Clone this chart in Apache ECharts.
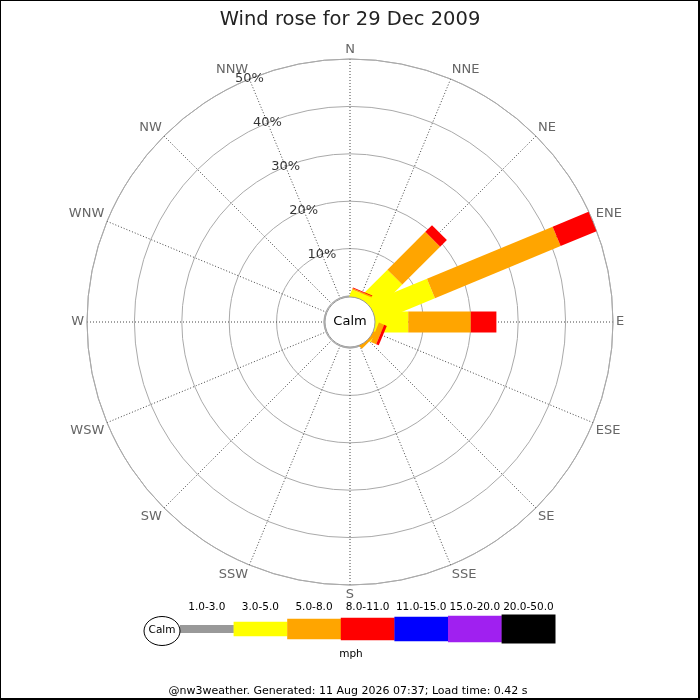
<!DOCTYPE html>
<html>
<head>
<meta charset="utf-8">
<script src="https://cdn.jsdelivr.net/npm/echarts@6/dist/echarts.min.js"></script>
<style>
html,body{margin:0;padding:0;background:#fff;}
#chart{width:700px;height:700px;}
</style>
</head>
<body>
<div id="chart"></div>
<script>
// ---- data ----
const directions = ['N','NNE','NE','ENE','E','ESE','SE','SSE','S','SSW','SW','WSW','W','WNW','NW','NNW'];
const speedBins = ['1.0-3.0','3.0-5.0','5.0-8.0','8.0-11.0','11.0-15.0','15.0-20.0','20.0-50.0'];
const binColors = ['#999999','#ffff00','#ffa500','#ff0000','#0000ff','#a020f0','#000000'];
//                  N   NNE  NE    ENE   E    ESE  SE   SSE S SSW SW WSW W WNW NW NNW
const speed1to3   = [0, 0,   0,    0,    0,   0,   0,   0, 0, 0, 0, 0, 0, 0, 0, 0];
const speed3to5   = [0, 1.0, 7.9,  13.0, 6.8, 0.2, 0,   0, 0, 0, 0, 0, 0, 0, 0, 0];
const speed5to8   = [0, 0.3, 11.3, 28.7, 13.2,1.2, 0.3, 0, 0, 0, 0, 0, 0, 0, 0, 0];
const speed8to11  = [0, 0.2, 2.0,  8.2,  5.4, 0.6, 0,   0, 0, 0, 0, 0, 0, 0, 0, 0];
const speed11to15 = [0, 0,   0,    0,    0,   0,   0,   0, 0, 0, 0, 0, 0, 0, 0, 0];
const speed15to20 = [0, 0,   0,    0,    0,   0,   0,   0, 0, 0, 0, 0, 0, 0, 0, 0];
const speed20to50 = [0, 0,   0,    0,    0,   0,   0,   0, 0, 0, 0, 0, 0, 0, 0, 0];
const ringTicks = [10, 20, 30, 40, 50];
const titleText = 'Wind rose for 29 Dec 2009';
const footerText = '@nw3weather. Generated: 11 Aug 2026 07:37; Load time: 0.42 s';

// ---- layout / style ----
const CX = 350, CY = 322, R0 = 26, R1 = 263;
const BAR_HALF = 10.5;
const legendX0 = 180, legendSegW = 53.6, legendCY = 629;
const legendHeights = [8, 14.3, 20.3, 22.7, 24.7, 26.7, 29];
const FONT = 'DejaVu Sans';

const allBins = [speed1to3, speed3to5, speed5to8, speed8to11, speed11to15, speed15to20, speed20to50];
const step = 360 / directions.length;

// stacked segments per bin
const cum = directions.map(() => 0);
const barSeries = allBins.map((vals, b) => {
  const data = [];
  vals.forEach((v, i) => {
    const start = cum[i];
    const end = start + v;
    cum[i] = end;
    if (v > 0) data.push([end, i * step, start]);
  });
  return {
    name: speedBins[b],
    type: 'custom',
    coordinateSystem: 'polar',
    z: 3,
    itemStyle: { color: binColors[b] },
    silent: true,
    data: data,
    renderItem: function (params, api) {
      const end = api.value(0), ang = api.value(1), start = api.value(2);
      const cs = params.coordSys;
      const p1 = api.coord([end, ang]);
      const p0 = start === 0 ? [cs.cx, cs.cy] : api.coord([start, ang]);
      const dx = p1[0] - cs.cx, dy = p1[1] - cs.cy;
      const L = Math.hypot(dx, dy) || 1;
      const nx = -dy / L * BAR_HALF, ny = dx / L * BAR_HALF;
      return {
        type: 'polygon',
        shape: { points: [
          [p0[0] + nx, p0[1] + ny], [p1[0] + nx, p1[1] + ny],
          [p1[0] - nx, p1[1] - ny], [p0[0] - nx, p0[1] - ny]
        ] },
        style: { fill: binColors[b] }
      };
    }
  };
});

// legend graphics
const graphics = [];
graphics.push({ type: 'rect', shape: { x: 0, y: 0, width: 699, height: 699 },
  style: { fill: 'none', stroke: '#000', lineWidth: 2 }, z: 100, silent: true });
graphics.push({ type: 'ellipse', shape: { cx: 162, cy: 631, rx: 18, ry: 14.5 },
  style: { fill: '#fff', stroke: '#000', lineWidth: 1 }, z: 10 });
graphics.push({ type: 'text', x: 162, y: 630, z: 11,
  style: { text: 'Calm', font: '10.5px "DejaVu Sans"', fill: '#000', textAlign: 'center', textVerticalAlign: 'middle' } });
speedBins.forEach((lab, i) => {
  const h = legendHeights[i];
  graphics.push({ type: 'rect', z: 9,
    shape: { x: legendX0 + i * legendSegW, y: legendCY - h / 2, width: legendSegW + 0.3, height: h },
    style: { fill: binColors[i] } });
  graphics.push({ type: 'text', x: legendX0 + (i + 0.5) * legendSegW, y: 607.5, z: 10,
    style: { text: lab, font: '10.5px "DejaVu Sans"', fill: '#000', textAlign: 'center', textVerticalAlign: 'middle' } });
});
graphics.push({ type: 'text', x: 351, y: 654.5,
  style: { text: 'mph', font: '10.5px "DejaVu Sans"', fill: '#000', textAlign: 'center', textVerticalAlign: 'middle' } });
graphics.push({ type: 'text', x: 348, y: 691.5,
  style: { text: footerText, font: '11px "DejaVu Sans"', fill: '#000', textAlign: 'center', textVerticalAlign: 'middle' } });

const option = {
  animation: false,
  backgroundColor: '#fff',
  textStyle: { fontFamily: FONT },
  title: {
    text: titleText, left: 'center', top: 5,
    textStyle: { fontFamily: FONT, fontSize: 19.5, fontWeight: 'normal', color: '#222' }
  },
  polar: { center: [CX, CY], radius: [R0, R1] },
  angleAxis: {
    type: 'value', min: 0, max: 360, interval: step,
    startAngle: 90, clockwise: true,
    axisLine: { show: true, lineStyle: { color: '#aaa', width: 1 } },
    axisTick: { show: false },
    axisLabel: {
      show: true, margin: 3, color: '#666', fontSize: 13, fontFamily: FONT,
      formatter: v => directions[Math.round(v / step) % directions.length]
    },
    splitLine: { show: true, lineStyle: { color: '#444', width: 1, type: [1, 2] } }
  },
  radiusAxis: {
    type: 'value', min: 0, max: 50, interval: 10,
    axisLine: { show: false }, axisTick: { show: false }, axisLabel: { show: false },
    splitLine: { show: true, lineStyle: { color: '#aaa', width: 1 } }
  },
  series: barSeries.concat([
    {
      type: 'scatter', coordinateSystem: 'polar', silent: true, z: 6,
      symbolSize: 1, itemStyle: { color: 'transparent' },
      data: ringTicks.map(v => [v, 337.5]),
      label: { show: true, position: 'inside', color: '#000', fontSize: 13, fontFamily: FONT,
        formatter: p => p.value[0] + '%' }
    },
    {
      type: 'pie', center: [CX, CY], radius: [0, 25], silent: true, z: 8,
      itemStyle: { color: '#fff', borderColor: '#999', borderWidth: 1 },
      label: { show: true, position: 'center', formatter: 'Calm', color: '#000', fontSize: 13, fontFamily: FONT },
      labelLine: { show: false },
      data: [{ value: 1, name: 'Calm' }]
    }
  ]),
  graphic: graphics
};

const chart = echarts.init(document.getElementById('chart'));
chart.setOption(option);
</script>
</body>
</html>
